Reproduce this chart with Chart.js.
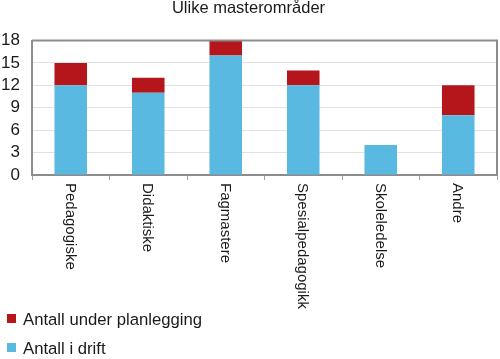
<!DOCTYPE html>
<html>
<head>
<meta charset="utf-8">
<script src="https://cdn.jsdelivr.net/npm/chart.js@4/dist/chart.umd.min.js"></script>
<style>
html,body{margin:0;padding:0;background:#fff;}
canvas{display:block;}
</style>
</head>
<body>
<canvas id="c" width="500" height="359"></canvas>
<script>
const categories = ["Pedagogiske", "Didaktiske", "Fagmastere", "Spesialpedagogikk", "Skoleledelse", "Andre"];
const inDrift = [12, 11, 16, 12, 4, 8];
const underPlanlegging = [3, 2, 2, 2, 0, 4];
const seriesNames = ["Antall i drift", "Antall under planlegging"];
const seriesColors = ["#5ab9e1", "#b5161b"];
const titleText = "Ulike masterområder";
const FONT = "'Liberation Sans', Arial, sans-serif";

const customDraw = {
  id: 'customDraw',
  afterDraw(chart) {
    const ctx = chart.ctx;
    const x = chart.scales.x;
    const a = chart.chartArea;
    ctx.save();
    // plot border top/right
    ctx.strokeStyle = '#8c8c8c';
    ctx.lineWidth = 2;
    ctx.beginPath();
    ctx.moveTo(a.left, a.top);
    ctx.lineTo(a.right, a.top);
    ctx.lineTo(a.right, a.bottom);
    ctx.stroke();
    // rotated category labels
    ctx.fillStyle = '#1a1a1a';
    ctx.font = "15px " + FONT;
    ctx.textAlign = 'left';
    ctx.textBaseline = 'middle';
    categories.forEach((lab, i) => {
      const px = x.getPixelForTick(i);
      ctx.save();
      ctx.translate(px - 1, a.bottom + 8);
      ctx.rotate(Math.PI / 2);
      ctx.fillText(lab, 0, 0);
      ctx.restore();
    });
    // legend (red first, then blue)
    const items = [[1, 325], [0, 354]];
    ctx.font = "16.7px " + FONT;
    ctx.textBaseline = 'alphabetic';
    items.forEach(([idx, base]) => {
      ctx.fillStyle = seriesColors[idx];
      ctx.fillRect(7, base - 11, 9, 9);
      ctx.fillStyle = '#1a1a1a';
      ctx.fillText(seriesNames[idx], 23, base);
    });
    ctx.restore();
  }
};

new Chart(document.getElementById('c'), {
  type: 'bar',
  data: {
    labels: categories,
    datasets: [
      { label: seriesNames[0], data: inDrift, backgroundColor: seriesColors[0], categoryPercentage: 1, barPercentage: 0.42 },
      { label: seriesNames[1], data: underPlanlegging, backgroundColor: seriesColors[1], categoryPercentage: 1, barPercentage: 0.42 }
    ]
  },
  options: {
    responsive: false,
    animation: false,
    layout: { padding: { top: 0, right: 3, left: 0, bottom: 0 } },
    plugins: {
      legend: { display: false },
      tooltip: { enabled: false },
      title: {
        display: true,
        text: titleText,
        color: '#1a1a1a',
        font: { family: FONT, size: 16.5, weight: 'normal', lineHeight: 1 },
        padding: { top: 0, bottom: 24 }
      }
    },
    scales: {
      x: {
        stacked: true,
        offset: true,
        grid: { offset: true, drawOnChartArea: false, drawTicks: true, tickLength: 5, color: '#a0a0a0', lineWidth: 1 },
        border: { display: true, color: '#8c8c8c', width: 2 },
        ticks: { display: false },
        afterFit(s) { s.height = 184; }
      },
      y: {
        stacked: true,
        min: 0, max: 18,
        ticks: { stepSize: 3, autoSkip: false, padding: 12, color: '#1a1a1a', font: { family: FONT, size: 17 } },
        grid: { color: '#e2e2e2', lineWidth: 1, drawTicks: false },
        border: { display: true, color: '#8c8c8c', width: 2 },
        afterFit(s) { s.width = 32; }
      }
    }
  },
  plugins: [customDraw]
});
</script>
</body>
</html>
